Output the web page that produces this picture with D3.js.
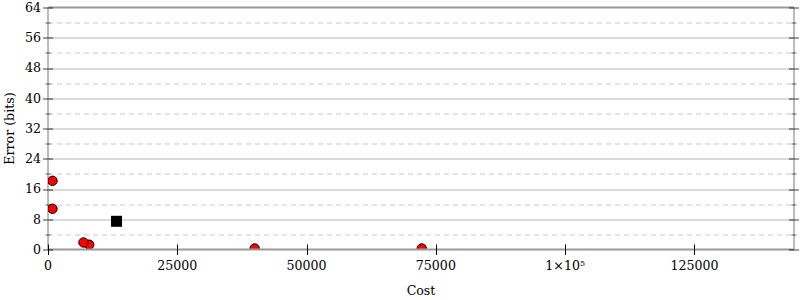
<!DOCTYPE html>
<html>
<head>
<meta charset="utf-8">
<script src="https://cdn.jsdelivr.net/npm/d3@7"></script>
<style>
  body { margin: 0; background: #fff; }
  text { font-family: "DejaVu Serif", serif; font-size: 12.6px; fill: #000; }
</style>
</head>
<body>
<svg width="800" height="300"></svg>
<script>
// data
const costs  = [870, 870, 39960, 72270, 7960, 6860];
const errors = [18.17, 10.77, 0.26, 0.26, 1.27, 1.85];
const bestCost = [13250];
const bestError = [7.46];

const xTicks = [0, 25000, 50000, 75000, 100000, 125000];
const yTicks = [0, 8, 16, 24, 32, 40, 48, 56, 64];
const yMinor = [4, 12, 20, 28, 36, 44, 52, 60];

const margin = {top: 7.5, right: 6, bottom: 50.5, left: 48},
    width = 800 - margin.left - margin.right,
    height = 300 - margin.top - margin.bottom;

const x = d3.scaleLinear().domain([0, 144250]).range([0, width]);
const y = d3.scaleLinear().domain([0, 64]).range([height, 0]);

const svg = d3.select("svg")
  .append("g")
  .attr("transform", `translate(${margin.left},${margin.top})`);

svg.append("clipPath").attr("id", "plot")
  .append("rect").attr("width", width).attr("height", height);

// grid
svg.selectAll(".grid")
  .data(yTicks.slice(1, -1))
  .enter().append("line")
  .attr("x1", 0).attr("x2", width)
  .attr("y1", d => Math.round(y(d)) + 0.5).attr("y2", d => Math.round(y(d)) + 0.5)
  .style("stroke", "#b4b4b4");

svg.selectAll(".minor")
  .data(yMinor)
  .enter().append("line")
  .attr("x1", 0).attr("x2", width)
  .attr("y1", d => Math.round(y(d)) + 0.5).attr("y2", d => Math.round(y(d)) + 0.5)
  .style("stroke", "#c8c8c8")
  .style("stroke-dasharray", "5,4");

// frame
svg.append("line").attr("x1", 0).attr("x2", width).attr("y1", 0).attr("y2", 0)
  .style("stroke", "#999").style("stroke-width", 2);
svg.append("line").attr("x1", 0).attr("x2", 0).attr("y1", 0).attr("y2", height)
  .style("stroke", "#bbb").style("stroke-width", 2);
svg.append("line").attr("x1", width).attr("x2", width).attr("y1", 0).attr("y2", height)
  .style("stroke", "#bbb").style("stroke-width", 2);

// points
const pts = svg.append("g").attr("clip-path", "url(#plot)");
pts.selectAll(".dot")
  .data(costs.map((c, i) => ({c, e: errors[i]})))
  .enter().append("circle")
  .attr("r", 4.7)
  .attr("cx", d => x(d.c))
  .attr("cy", d => y(d.e))
  .style("fill", "#ff0000")
  .style("stroke", "#000")
  .style("stroke-width", 1);

pts.selectAll(".best")
  .data(bestCost.map((c, i) => ({c, e: bestError[i]})))
  .enter().append("rect")
  .attr("x", d => x(d.c) - 5.5)
  .attr("y", d => y(d.e) - 5.5)
  .attr("width", 11).attr("height", 11)
  .style("fill", "#000");

// bottom axis line
svg.append("line").attr("x1", 0).attr("x2", width).attr("y1", height).attr("y2", height)
  .style("stroke", "#999").style("stroke-width", 2);

// y ticks on both sides
[0, width].forEach(px => {
  svg.selectAll(null)
    .data(yTicks)
    .enter().append("line")
    .attr("x1", px - 5).attr("x2", px + 5)
    .attr("y1", d => Math.round(y(d)) + 0.5).attr("y2", d => Math.round(y(d)) + 0.5)
    .style("stroke", "#000").style("opacity", 0.75);
  svg.selectAll(null)
    .data(yMinor)
    .enter().append("line")
    .attr("x1", px - 2.5).attr("x2", px + 2.5)
    .attr("y1", d => Math.round(y(d)) + 0.5).attr("y2", d => Math.round(y(d)) + 0.5)
    .style("stroke", "#000").style("opacity", 0.6);
});

svg.selectAll(".ylab")
  .data(yTicks)
  .enter().append("text")
  .attr("x", -7)
  .attr("y", d => y(d))
  .attr("dy", "0.35em")
  .attr("text-anchor", "end")
  .text(d => d);

// x ticks
svg.selectAll(".xtick")
  .data(xTicks)
  .enter().append("line")
  .attr("x1", d => Math.round(x(d)) + 0.5).attr("x2", d => Math.round(x(d)) + 0.5)
  .attr("y1", height - 5).attr("y2", height + 5.5)
  .style("stroke", "#000");

const xl = svg.selectAll(".xlab")
  .data(xTicks)
  .enter().append("text")
  .attr("x", d => x(d))
  .attr("y", height + 20)
  .attr("text-anchor", "middle");
xl.each(function(d) {
  const t = d3.select(this);
  if (d === 100000) {
    t.append("tspan").text("1×10");
    t.append("tspan").attr("dy", "-0.4em").style("font-size", "8px").text("5");
  } else {
    t.text(d);
  }
});

// axis titles
svg.append("text")
  .attr("x", width / 2)
  .attr("y", height + 45)
  .attr("text-anchor", "middle")
  .text("Cost");

svg.append("text")
  .attr("transform", `translate(${-margin.left + 14},${height / 2}) rotate(-90)`)
  .attr("text-anchor", "middle")
  .text("Error (bits)");
</script>
</body>
</html>
